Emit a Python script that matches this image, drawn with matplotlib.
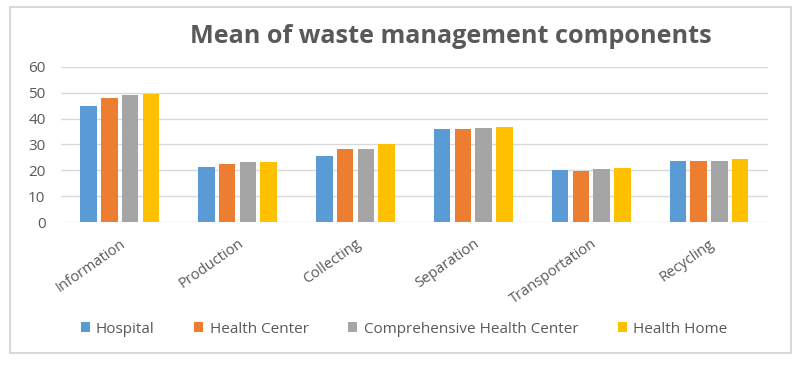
import matplotlib
matplotlib.use("Agg")
import matplotlib.pyplot as plt
import numpy as np
from matplotlib.patches import Rectangle

categories = ["Information", "Production", "Collecting", "Separation", "Transportation", "Recycling"]
series_names = ["Hospital", "Health Center", "Comprehensive Health Center", "Health Home"]
hospital = [45.0, 21.2, 25.4, 36.1, 20.3, 23.8]
health_center = [47.9, 22.4, 28.3, 36.1, 19.9, 23.8]
comprehensive = [49.2, 23.4, 28.3, 36.5, 20.7, 23.8]
health_home = [49.5, 23.1, 30.2, 36.9, 20.9, 24.4]
colors = ["#5B9BD5", "#ED7D31", "#A5A5A5", "#FFC000"]
yticks = [0, 10, 20, 30, 40, 50, 60]

plt.rcParams['font.family'] = ['Open Sans', 'DejaVu Sans']
fig = plt.figure(figsize=(8, 3.66), dpi=100)
ax = fig.add_axes([0.076, 0.3926, 0.884, 0.4252])

x = np.arange(len(categories))
step = 0.176
width = 0.14
data = [hospital, health_center, comprehensive, health_home]
for i, (vals, c, name) in enumerate(zip(data, colors, series_names)):
    ax.bar(x + (i - 1.5) * step, vals, width, color=c, label=name, zorder=3)

ax.set_xlim(-0.5, len(categories) - 0.5)
ax.set_ylim(0, 60)
ax.set_yticks(yticks)
ax.set_yticklabels([str(v) for v in yticks], fontsize=11, color="#595959")
ax.set_xticks(x)
ax.set_xticklabels(categories, rotation=35, ha="right", rotation_mode="anchor",
                   fontsize=10.5, color="#595959")
ax.tick_params(axis="both", length=0)
ax.tick_params(axis="y", pad=11)
ax.tick_params(axis="x", pad=10)
ax.grid(axis="y", color="#D9D9D9", linewidth=1, zorder=0)
for s in ax.spines.values():
    s.set_visible(False)

fig.text(0.564, 0.899, "Mean of waste management components", ha="center", va="center",
         fontsize=18.2, fontweight="bold", color="#595959")

leg = fig.legend(loc="center", bbox_to_anchor=(0.505, 0.101), ncol=4, frameon=False,
                 fontsize=11, handlelength=0.6, handleheight=0.6, handletextpad=0.4,
                 columnspacing=2.6, labelcolor="#595959")

fig.patches.append(Rectangle((10 / 800, 1 - 353 / 366), 781 / 800, 346 / 366,
                             transform=fig.transFigure, fill=False,
                             edgecolor="#D9D9D9", linewidth=1.5))

fig.savefig("out.png", dpi=100)
